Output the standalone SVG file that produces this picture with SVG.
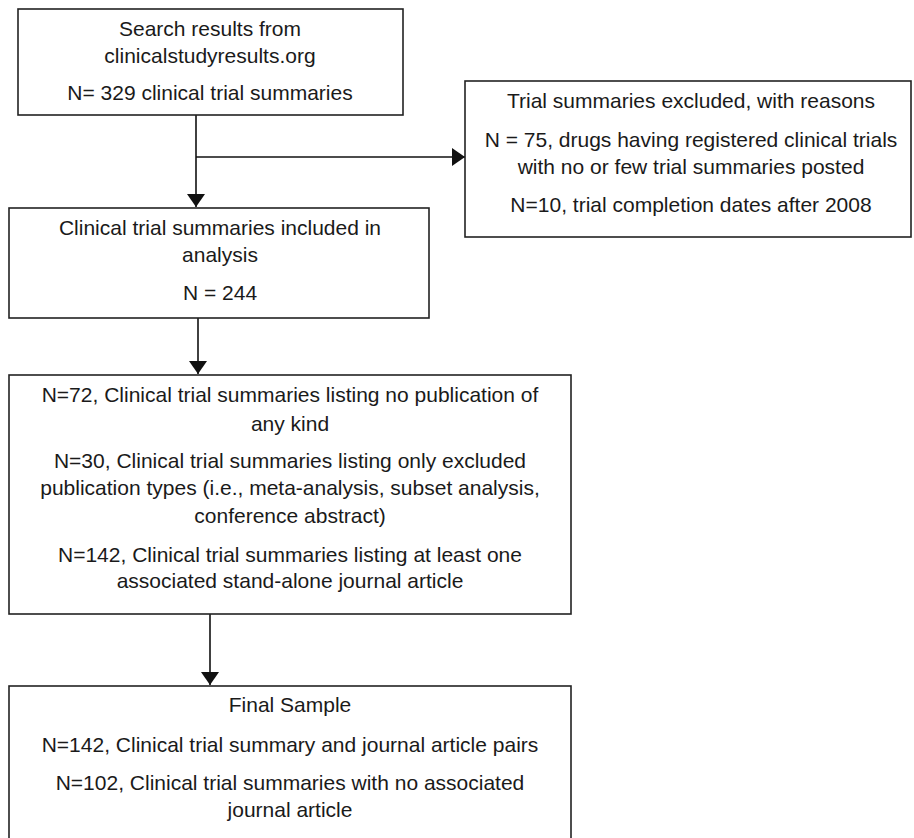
<svg xmlns="http://www.w3.org/2000/svg" width="914" height="838" viewBox="0 0 914 838">
<defs>
<style>
.box{fill:#fff;stroke:#222;stroke-width:1.6}
.t{font-family:"Liberation Sans",Arial,sans-serif;font-size:21px;fill:#1a1a1a;text-anchor:middle}
.c{stroke:#111;stroke-width:1.6;fill:none}
</style>
<marker id="ah" markerWidth="14" markerHeight="20" refX="13" refY="9" orient="auto" markerUnits="userSpaceOnUse">
<path d="M0,0 L13,9 L0,18 Z" fill="#111"/>
</marker>
</defs>
<rect width="914" height="838" fill="#fff"/>
<g id="connectors">
<path class="c" d="M196,115 V207" marker-end="url(#ah)"/>
<path class="c" d="M196,157 H465" marker-end="url(#ah)"/>
<path class="c" d="M198,318 V374" marker-end="url(#ah)"/>
<path class="c" d="M210,614 V685" marker-end="url(#ah)"/>
</g>
<g id="search">
<rect class="box" x="18" y="9" width="385" height="106"/>
<text class="t" x="210" y="36">Search results from</text>
<text class="t" x="210" y="63">clinicalstudyresults.org</text>
<text class="t" x="210" y="100">N= 329 clinical trial summaries</text>
</g>
<g id="excluded">
<rect class="box" x="465" y="81" width="446" height="156"/>
<text class="t" x="691" y="108">Trial summaries excluded, with reasons</text>
<text class="t" x="691" y="147">N = 75, drugs having registered clinical trials</text>
<text class="t" x="691" y="174">with no or few trial summaries posted</text>
<text class="t" x="691" y="212">N=10, trial completion dates after 2008</text>
</g>
<g id="included">
<rect class="box" x="9" y="208" width="420" height="110"/>
<text class="t" x="220" y="235">Clinical trial summaries included in</text>
<text class="t" x="220" y="262">analysis</text>
<text class="t" x="220" y="300">N = 244</text>
</g>
<g id="publications">
<rect class="box" x="9" y="375" width="562" height="239"/>
<text class="t" x="290" y="402">N=72, Clinical trial summaries listing no publication of</text>
<text class="t" x="290" y="431">any kind</text>
<text class="t" x="290" y="468">N=30, Clinical trial summaries listing only excluded</text>
<text class="t" x="290" y="495">publication types (i.e., meta-analysis, subset analysis,</text>
<text class="t" x="290" y="523">conference abstract)</text>
<text class="t" x="290" y="562">N=142, Clinical trial summaries listing at least one</text>
<text class="t" x="290" y="588">associated stand-alone journal article</text>
</g>
<g id="final">
<rect class="box" x="9" y="686" width="562" height="160"/>
<text class="t" x="290" y="712">Final Sample</text>
<text class="t" x="290" y="752">N=142, Clinical trial summary and journal article pairs</text>
<text class="t" x="290" y="790">N=102, Clinical trial summaries with no associated</text>
<text class="t" x="290" y="817">journal article</text>
</g>
</svg>
